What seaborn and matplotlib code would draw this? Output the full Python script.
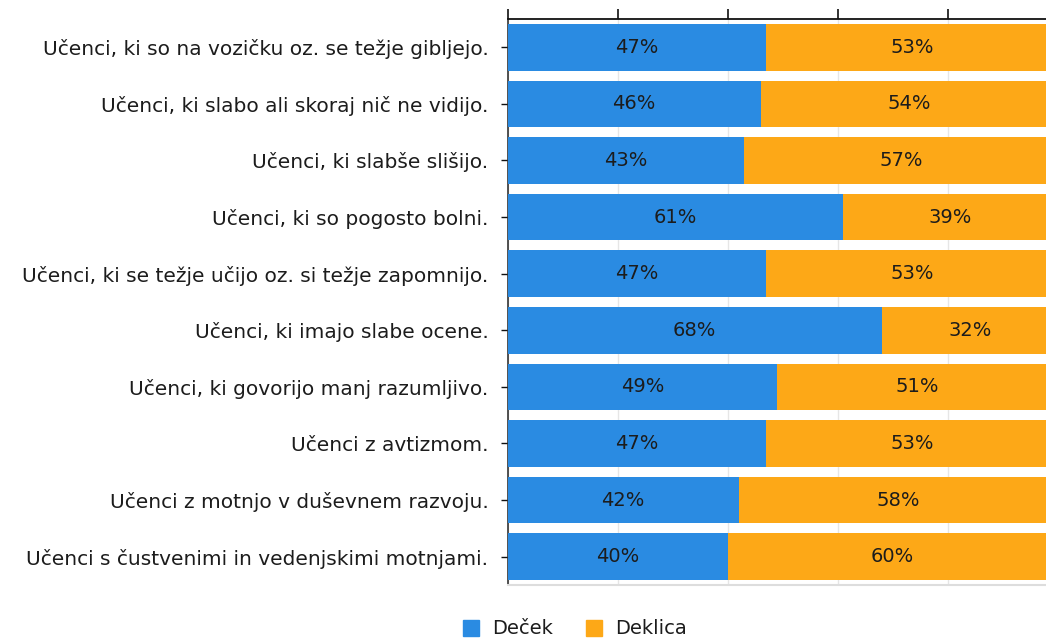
import pandas as pd
import matplotlib
matplotlib.use("Agg")
import matplotlib.pyplot as plt
from matplotlib.lines import Line2D
import seaborn as sns

# data
categories = [
    "Učenci, ki so na vozičku oz. se težje gibljejo.",
    "Učenci, ki slabo ali skoraj nič ne vidijo.",
    "Učenci, ki slabše slišijo.",
    "Učenci, ki so pogosto bolni.",
    "Učenci, ki se težje učijo oz. si težje zapomnijo.",
    "Učenci, ki imajo slabe ocene.",
    "Učenci, ki govorijo manj razumljivo.",
    "Učenci z avtizmom.",
    "Učenci z motnjo v duševnem razvoju.",
    "Učenci s čustvenimi in vedenjskimi motnjami.",
]
decek = [47, 46, 43, 61, 47, 68, 49, 47, 42, 40]
deklica = [53, 54, 57, 39, 53, 32, 51, 53, 58, 60]
series_names = ["Deček", "Deklica"]

blue = "#2A8BE2"
orange = "#FDA817"
text_col = "#1c1c1c"

df = pd.DataFrame({"cat": categories, "Deček": decek, "Deklica": deklica})
df["total"] = df["Deček"] + df["Deklica"]

sns.set_theme(style="white")
plt.rcParams["font.family"] = ["DejaVu Sans"]

fig = plt.figure(figsize=(10.46, 6.38), dpi=100)
ax = fig.add_axes([507.7 / 1046, 53 / 638, 550 / 1046, 566 / 638])

# stacked: full bar in orange, boys on top in blue
sns.barplot(data=df, x="total", y="cat", color=orange, width=0.825,
            saturation=1, ax=ax, orient="h", linewidth=0, zorder=2)
sns.barplot(data=df, x="Deček", y="cat", color=blue, width=0.825,
            saturation=1, ax=ax, orient="h", linewidth=0, zorder=3)

for i, (b, g) in enumerate(zip(df["Deček"], df["Deklica"])):
    ax.text(b / 2, i, f"{b}%", ha="center", va="center", fontsize=14,
            color=text_col, zorder=4)
    ax.text(b + g / 2, i, f"{g}%", ha="center", va="center", fontsize=14,
            color=text_col, zorder=4)

ax.set_xlim(0, 100)
ax.set_ylim(9.5, -0.5)
ax.set_xlabel("")
ax.set_ylabel("")

# axis styling
ax.xaxis.tick_top()
ax.set_xticks([0, 20, 40, 60, 80, 100])
ax.set_xticklabels([])
ax.tick_params(axis="x", direction="out", length=7, width=1.2, color="#111111",
               top=True, bottom=False)
ax.tick_params(axis="y", direction="out", length=5, width=1, color="#111111",
               left=True, labelsize=14.5, labelcolor=text_col, pad=9)
ax.grid(axis="x", color="#e6e6e6", linewidth=1, zorder=0)
ax.set_axisbelow(True)

ax.spines["top"].set_visible(True)
ax.spines["top"].set_color("#111111")
ax.spines["top"].set_linewidth(1.3)
ax.spines["left"].set_color("#333333")
ax.spines["left"].set_linewidth(1.2)
ax.spines["bottom"].set_color("#dddddd")
ax.spines["bottom"].set_linewidth(1.5)
ax.spines["right"].set_visible(False)

handles = [Line2D([0], [0], marker="s", linestyle="", markersize=11,
                  markerfacecolor=c, markeredgecolor=c)
           for c in [blue, orange]]
fig.legend(handles, series_names, loc="center", ncol=2, frameon=False,
           bbox_to_anchor=(574 / 1046, 9 / 638), fontsize=14,
           handlelength=1, handletextpad=0.6, columnspacing=1.6,
           labelcolor=text_col)

fig.savefig("out.png", dpi=100)
